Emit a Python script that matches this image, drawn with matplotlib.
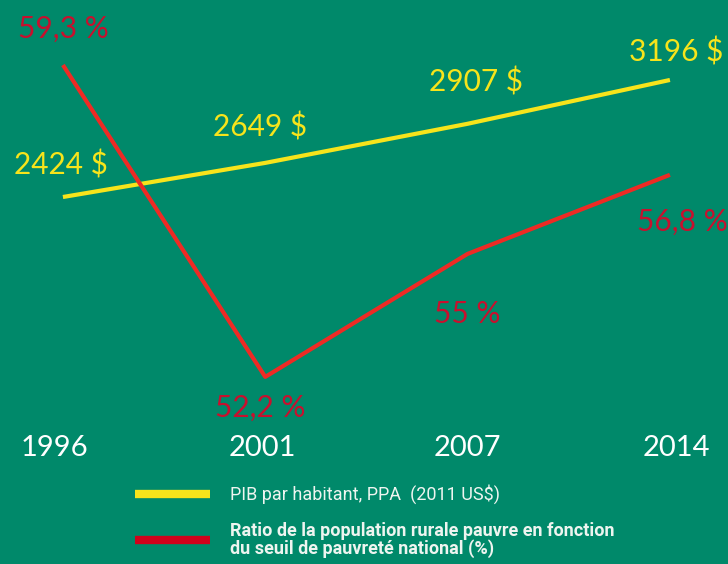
import matplotlib.pyplot as plt
from matplotlib.lines import Line2D

# Donnees
annees = ["1996", "2001", "2007", "2014"]
pib = [2424, 2649, 2907, 3196]
pauvrete = [59.3, 52.2, 55.0, 56.8]
pib_labels = ["2424 $", "2649 $", "2907 $", "3196 $"]
pauvrete_labels = ["59,3 %", "52,2 %", "55 %", "56,8 %"]
legende = ["PIB par habitant, PPA  (2011 US$)",
           "Ratio de la population rurale pauvre en fonction\ndu seuil de pauvreté national (%)"]

fond = "#00896A"
jaune = "#F7E41B"
rouge = "#EE2A24"
rouge_txt = "#C8102E"

fig = plt.figure(figsize=(7.28, 5.64), dpi=100, facecolor=fond)
ax = fig.add_axes([0, 0, 1, 1])
ax.set_facecolor(fond)
ax2 = ax.twinx()

x = list(range(len(annees)))
ax.plot(x, pib, color=jaune, lw=3, solid_capstyle="butt")
ax2.plot(x, pauvrete, color=rouge, lw=3, solid_capstyle="butt")

ax.set_xlim(-0.311, 3.287)
ax.set_ylim(3.2, 3723.5)
ax2.set_ylim(47.94, 60.78)
for a in (ax, ax2):
    a.axis("off")

# Etiquettes des valeurs
off_pib = [(-2, 32), (-5, 36), (8, 42), (6, 28)]
for xi, v, t, o in zip(x, pib, pib_labels, off_pib):
    ax.annotate(t, (xi, v), xytext=o, textcoords="offset pixels",
                ha="center", va="center", color=jaune, fontsize=21.5, family="Lato")

off_pau = [(0, 36), (-5, -31), (0, -60), (12, -47)]
for xi, v, t, o in zip(x, pauvrete, pauvrete_labels, off_pau):
    ax2.annotate(t, (xi, v), xytext=o, textcoords="offset pixels",
                 ha="center", va="center", color=rouge_txt, fontsize=21.5, family="Lato")

# Annees
off_an = [-8, -3, 0, 6]
for xi, a, o in zip(x, annees, off_an):
    ax.annotate(a, (xi, 564 - 448), xytext=(o, 0), textcoords="offset pixels",
                xycoords=("data", "figure pixels"), ha="center", va="center",
                color="white", fontsize=21, family="Lato")

# Legende
for (yy, c, lab, w) in [(494, jaune, legende[0], "normal"), (540, "#D0021B", legende[1], "bold")]:
    fig.add_artist(Line2D([135 / 728, 210 / 728], [1 - yy / 564, 1 - yy / 564],
                          color=c, lw=6, solid_capstyle="butt"))
    fig.text(230 / 728, 1 - yy / 564, lab, ha="left", va="center", color="#EEF5F0",
             fontsize=13, family="Roboto", weight=w, linespacing=0.95)

plt.savefig("out.png", dpi=100, facecolor=fond)
